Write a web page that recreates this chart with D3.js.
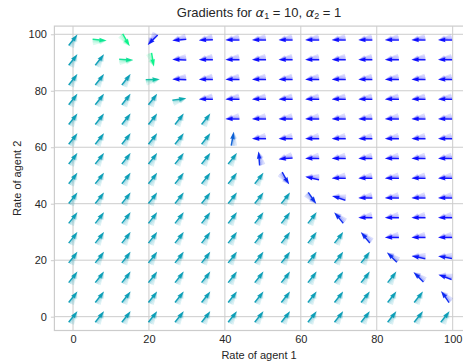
<!DOCTYPE html>
<html><head><meta charset="utf-8">
<script src="https://cdn.jsdelivr.net/npm/d3@7"></script>
<style>body{margin:0;background:#fff}text{font-family:"Liberation Sans",Arial,sans-serif;fill:#262626}</style>
</head><body>
<svg id="c" width="463" height="364"></svg>
<script>
// grid of rates (agent 1 on x, agent 2 on y)
const xRates = [0,7,14,21,28,35,42,49,56,63,70,77,84,91,98];
const yRates = [98,91,84,77,70,63,56,49,42,35,28,21,14,7,0]; // rows top -> bottom
// arrow direction (screen degrees, counter-clockwise from +x) per row, top -> bottom
const angleRows = [
 [52,-5,-60,225,185,182,180,180,180,180,180,180,180,180,180],
 [52,52,-3,-80,178,180,180,180,180,180,180,180,180,180,180],
 [52,52,52,2,178,180,180,180,180,180,180,180,180,180,180],
 [52,52,52,52,8,180,180,180,180,180,180,180,180,180,180],
 [52,52,52,52,52,52,180,180,180,180,180,180,180,180,180],
 [52,52,52,52,52,52,80,180,180,180,180,180,180,180,180],
 [52,52,52,52,52,52,52,95,185,180,180,180,180,180,180],
 [52,52,52,52,52,52,52,52,-60,168,180,180,180,180,180],
 [52,52,52,52,52,52,52,52,52,-55,162,180,180,180,180],
 [52,52,52,52,52,52,52,52,52,52,130,180,180,180,180],
 [52,52,52,52,52,52,52,52,52,52,52,130,180,180,180],
 [52,52,52,52,52,52,52,52,52,52,52,52,135,168,170],
 [52,52,52,52,52,52,52,52,52,52,52,52,52,135,160],
 [52,52,52,52,52,52,52,52,52,52,52,52,52,52,125],
 [52,52,52,52,52,52,52,52,52,52,52,52,52,52,52]
];
// colour value (0 = blue, 1 = green, winter colormap) per row, top -> bottom
const colorRows = [
 [.6,.9,.95,.05,0,0,0,0,0,0,0,0,0,0,0],
 [.6,.6,.88,.95,0,0,0,0,0,0,0,0,0,0,0],
 [.6,.6,.6,.75,0,0,0,0,0,0,0,0,0,0,0],
 [.6,.6,.6,.6,.65,0,0,0,0,0,0,0,0,0,0],
 [.6,.6,.6,.6,.6,.6,0,0,0,0,0,0,0,0,0],
 [.6,.6,.6,.6,.6,.6,.35,0,0,0,0,0,0,0,0],
 [.6,.6,.6,.6,.6,.6,.6,.12,0,0,0,0,0,0,0],
 [.6,.6,.6,.6,.6,.6,.6,.6,.1,0,0,0,0,0,0],
 [.6,.6,.6,.6,.6,.6,.6,.6,.6,.15,.05,0,0,0,0],
 [.6,.6,.6,.6,.6,.6,.6,.6,.6,.6,.12,0,0,0,0],
 [.6,.6,.6,.6,.6,.6,.6,.6,.6,.6,.6,.12,0,0,0],
 [.6,.6,.6,.6,.6,.6,.6,.6,.6,.6,.6,.6,.12,.05,.05],
 [.6,.6,.6,.6,.6,.6,.6,.6,.6,.6,.6,.6,.6,.12,.05],
 [.6,.6,.6,.6,.6,.6,.6,.6,.6,.6,.6,.6,.6,.6,.12],
 [.6,.6,.6,.6,.6,.6,.6,.6,.6,.6,.6,.6,.6,.6,.6]
];
const xTicks = [0,20,40,60,80,100];
const yTicks = [0,20,40,60,80,100];

const svg = d3.select("#c");
const L = 54.4, R = 463.7, T = 26.1, B = 330.5;
const x = d3.scaleLinear().domain([-4.9,102.9]).range([L,R]);
const y = d3.scaleLinear().domain([-4.9,102.9]).range([B,T]);
const winter = d3.interpolateRgb("#0000ff","#00ff80");

svg.append("rect").attr("x",0).attr("y",0).attr("width",463).attr("height",364).attr("fill","#fff");
// grid
const g = svg.append("g");
g.selectAll(".gx").data(xTicks).join("line").attr("x1",d=>x(d)).attr("x2",d=>x(d)).attr("y1",T).attr("y2",B)
 .attr("stroke","#cccccc").attr("stroke-width",1);
g.selectAll(".gy").data(yTicks).join("line").attr("y1",d=>y(d)).attr("y2",d=>y(d)).attr("x1",L).attr("x2",R)
 .attr("stroke","#cccccc").attr("stroke-width",1);
// spines
svg.append("rect").attr("x",L).attr("y",T).attr("width",R-L).attr("height",B-T).attr("fill","none").attr("stroke","#cccccc").attr("stroke-width",1.2);

// axes
const ax = svg.append("g").attr("transform",`translate(0,${B})`).call(d3.axisBottom(x).tickValues(xTicks).tickSize(0).tickPadding(5));
const ay = svg.append("g").attr("transform",`translate(${L},0)`).call(d3.axisLeft(y).tickValues(yTicks).tickSize(3.5).tickPadding(4));
[ax,ay].forEach(a=>{a.select(".domain").remove();a.selectAll("line").attr("stroke","#cccccc");
 a.selectAll("text").attr("font-size",11).attr("fill","#262626").attr("font-family","Liberation Sans, Arial, sans-serif");});

// arrows
const Lp = 14, w = 1.5;
const arrowPath = (() => {
  const a = -Lp/2, b = Lp/2;
  const pts = [[a,-w/2],[b-4.5*w,-w/2],[b-5*w,-1.5*w],[b,0],[b-5*w,1.5*w],[b-4.5*w,w/2],[a,w/2]];
  return "M" + pts.map(p=>p.join(",")).join("L") + "Z";
})();
const cells = [];
angleRows.forEach((row,j)=>row.forEach((ang,i)=>cells.push({xv:xRates[i], yv:yRates[j], ang, c:colorRows[j][i]})));
const fan = [{d:21,o:0.14},{d:14,o:0.2},{d:7,o:0.3},{d:0,o:0.92}];
const ag = svg.append("g");
cells.forEach(cl=>{
  fan.forEach(f=>{
    ag.append("path").attr("d",arrowPath)
      .attr("fill",winter(cl.c)).attr("fill-opacity",f.o)
      .attr("transform",`translate(${x(cl.xv)},${y(cl.yv)}) rotate(${-cl.ang}) translate(${Lp/2},0) rotate(${-f.d}) translate(${-Lp/2},0)`);
  });
});

// labels
svg.append("text").attr("x",(L+R)/2).attr("y",359).attr("text-anchor","middle").attr("font-size",11).text("Rate of agent 1");
svg.append("text").attr("transform",`translate(21,${(T+B)/2}) rotate(-90)`).attr("text-anchor","middle").attr("font-size",11).text("Rate of agent 2");
const title = svg.append("text").attr("x",(L+R)/2).attr("y",16.5).attr("text-anchor","middle").attr("font-size",13);
title.append("tspan").text("Gradients for ");
title.append("tspan").attr("font-family","DejaVu Sans").attr("font-style","italic").text("α");
title.append("tspan").attr("font-size",9).attr("dy",2.5).text("1");
title.append("tspan").attr("dy",-2.5).text(" = 10, ");
title.append("tspan").attr("font-family","DejaVu Sans").attr("font-style","italic").text("α");
title.append("tspan").attr("font-size",9).attr("dy",2.5).text("2");
title.append("tspan").attr("dy",-2.5).text(" = 1");
</script>
</body></html>
